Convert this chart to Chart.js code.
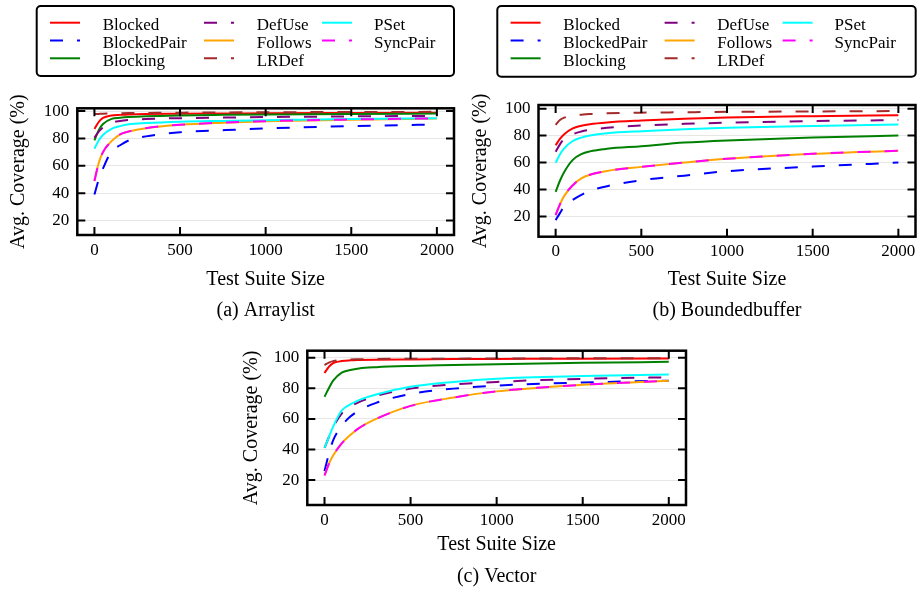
<!DOCTYPE html>
<html>
<head>
<meta charset="utf-8">
<title>Avg. Coverage vs Test Suite Size</title>
<script src="https://cdn.jsdelivr.net/npm/chart.js@4.4.1/dist/chart.umd.min.js"></script>
<style>
    body { margin: 0; background: #fff; }
    #page { position: relative; width: 919px; height: 591px; overflow: hidden; }
    #page canvas { position: absolute; }
</style>
</head>
<body>
<div id="page">
    <canvas id="arraylistChart" width="460" height="330" style="left:0;top:0"></canvas>
    <canvas id="boundedbufferChart" width="459" height="330" style="left:460px;top:0"></canvas>
    <canvas id="vectorChart" width="470" height="256" style="left:230px;top:335px"></canvas>
</div>
<script>
const testSizes = [0, 25, 50, 100, 150, 200, 300, 500, 750, 1000, 1500, 2000];
const criteria = ['Blocked', 'BlockedPair', 'Blocking', 'DefUse', 'Follows', 'LRDef', 'PSet', 'SyncPair'];
const xTicks = [0, 500, 1000, 1500, 2000];
const yTicks = [20, 40, 60, 80, 100];

// average coverage (%) per criterion, rows in the same order as criteria
const arraylistCoverage = [
    [87, 92, 95, 96.8, 97.2, 97.5, 97.8, 98, 98.2, 98.4, 98.6, 98.8],
    [39, 50, 58, 70.5, 75, 78.5, 81.5, 84.5, 86, 87.3, 89, 90.2],
    [78.5, 86, 90.5, 94.3, 95.1, 95.6, 96.2, 96.8, 97.2, 97.5, 97.9, 98.2],
    [80.5, 85, 88, 91.5, 92.8, 93.5, 94.2, 94.8, 95.2, 95.6, 96.1, 96.5],
    [49, 62, 70, 78, 83, 85, 87.5, 90, 91.5, 92.5, 93.7, 94.5],
    [97.8, 97.9, 98, 98.3, 98.4, 98.5, 98.6, 98.8, 99, 99.1, 99.3, 99.4],
    [72.5, 78.5, 82.5, 87, 89, 90.3, 91.2, 92.2, 92.8, 93.3, 94.2, 94.8],
    [49, 62, 70, 78, 83, 85, 87.5, 90, 91.5, 92.6, 93.8, 94.7]
];
const boundedbufferCoverage = [
    [72.8, 77.5, 81, 85.3, 87.3, 88.5, 89.8, 91.2, 92.5, 93.4, 94.4, 95.1],
    [17.3, 22.5, 27.5, 32.3, 36, 39, 42.5, 46.9, 50.3, 53.6, 57, 60],
    [38.3, 46.5, 53, 62, 66.3, 68.3, 70.2, 72.1, 74.8, 76.4, 78.5, 80],
    [68, 73.5, 77.5, 81, 83, 84.3, 85.8, 87.5, 88.7, 89.6, 90.8, 91.5],
    [21, 29, 35.3, 43.2, 48.3, 51, 53.8, 56.8, 60, 62.8, 66.5, 68.8],
    [88, 91.5, 93.3, 94.8, 95.5, 96, 96.5, 97, 97.3, 97.6, 97.9, 98.2],
    [59.8, 66, 70.5, 76, 78.5, 80, 81.7, 83.3, 84.8, 85.9, 87.2, 88.2],
    [21, 29, 35.3, 43.2, 48.3, 51, 53.8, 56.8, 60, 62.8, 66.5, 68.8]
];
const vectorCoverage = [
    [90, 94, 96.5, 97.8, 98.3, 98.5, 98.7, 98.9, 99.1, 99.2, 99.4, 99.5],
    [26, 37, 46, 55.5, 61.5, 65.5, 70.5, 76.3, 79.8, 81.8, 83.8, 85],
    [74.5, 80, 85, 90.3, 92, 93, 93.8, 94.6, 95.2, 95.8, 96.7, 97.3],
    [41, 48, 54.5, 63.5, 68, 71, 75, 79.8, 82.5, 84.2, 86.2, 87.2],
    [23, 30.5, 36, 44, 49.5, 54, 60, 68.5, 74, 78, 82.3, 85],
    [95.2, 96.8, 97.8, 98.6, 98.9, 99, 99.2, 99.3, 99.4, 99.5, 99.6, 99.7],
    [41, 48, 55, 65.5, 69.5, 72.3, 76, 81, 84.2, 86.3, 88, 89],
    [23, 30.5, 36, 44, 49.5, 54, 60, 68.5, 74, 78, 82.3, 85]
];

const seriesColors = ['#ff0000', '#0000ff', '#008000', '#800080', '#ffa500', '#a52a2a', '#00ffff', '#ff00ff'];
const dashedSeries = ['BlockedPair', 'DefUse', 'LRDef', 'SyncPair'];
const serif = "'Liberation Serif', 'Times New Roman', serif";

Chart.defaults.color = '#000';
Chart.defaults.font.family = serif;

let charts = {};

function buildDatasets(coverage) {
    return criteria.map((name, i) => ({
        label: name,
        data: testSizes.map((x, j) => ({ x: x, y: coverage[i][j] })),
        borderColor: seriesColors[i],
        borderWidth: 2,
        borderDash: dashedSeries.includes(name) ? [13, 14] : [],
        pointRadius: 0,
        cubicInterpolationMode: 'monotone',
        fill: false,
        // later series are painted over the earlier ones
        order: criteria.length - i
    }));
}

// frame with inward ticks, the legend box and the caption under each panel
const figurePlugin = {
    id: 'figure',
    afterDatasetsDraw(chart) {
        const { ctx, chartArea: a, scales } = chart;
        ctx.save();
        ctx.strokeStyle = '#000';
        ctx.lineWidth = 2;
        ctx.beginPath();
        scales.x.ticks.forEach(t => {
            const px = scales.x.getPixelForValue(t.value);
            ctx.moveTo(px, a.bottom); ctx.lineTo(px, a.bottom - 8);
            ctx.moveTo(px, a.top); ctx.lineTo(px, a.top + 8);
        });
        scales.y.ticks.forEach(t => {
            const py = scales.y.getPixelForValue(t.value);
            ctx.moveTo(a.left, py); ctx.lineTo(a.left + 8, py);
            ctx.moveTo(a.right, py); ctx.lineTo(a.right - 8, py);
        });
        ctx.stroke();
        ctx.lineWidth = 2.5;
        ctx.strokeRect(a.left, a.top, a.right - a.left, a.bottom - a.top);
        ctx.restore();
    },
    afterDraw(chart, args, opts) {
        const { ctx, chartArea: a } = chart;
        ctx.save();
        ctx.fillStyle = '#000';
        ctx.font = '20px ' + serif;
        ctx.textAlign = 'center';
        ctx.textBaseline = 'middle';
        ctx.fillText(opts.caption, (a.left + a.right) / 2, opts.captionY);

        const box = opts.legend;
        if (box) {
            ctx.fillStyle = '#fff';
            ctx.strokeStyle = '#000';
            ctx.lineWidth = 2;
            ctx.beginPath();
            ctx.roundRect(box.left, box.top, box.width, box.height, 4);
            ctx.fill();
            ctx.stroke();
            const lineX = [13.3, 167.3, 285.3];
            const textX = [66, 220, 337.3];
            ctx.font = '17px ' + serif;
            ctx.textAlign = 'left';
            ctx.textBaseline = 'alphabetic';
            chart.data.datasets.forEach((ds, i) => {
                const col = Math.floor(i / 3);
                const row = i % 3;
                const y = box.top + 16.7 + row * 17.8;
                ctx.strokeStyle = ds.borderColor;
                ctx.setLineDash(ds.borderDash);
                ctx.beginPath();
                ctx.moveTo(box.left + lineX[col], y);
                ctx.lineTo(box.left + lineX[col] + 30, y);
                ctx.stroke();
                ctx.setLineDash([]);
                ctx.fillStyle = '#000';
                ctx.fillText(ds.label, box.left + textX[col], y + 7.3);
            });
        }
        ctx.restore();
    }
};

function createChart(canvasId, coverage, layout) {
    const canvas = document.getElementById(canvasId);
    if (!canvas) return;

    if (charts[canvasId]) {
        charts[canvasId].destroy();
    }

    charts[canvasId] = new Chart(canvas.getContext('2d'), {
        type: 'line',
        data: { datasets: buildDatasets(coverage) },
        options: {
            responsive: false,
            maintainAspectRatio: false,
            animation: false,
            layout: { padding: layout.padding },
            plugins: {
                legend: { display: false },
                tooltip: { enabled: false },
                figure: {
                    caption: layout.caption,
                    captionY: layout.captionY,
                    legend: layout.legend
                }
            },
            scales: {
                x: {
                    type: 'linear',
                    min: -100,
                    max: 2100,
                    afterBuildTicks: axis => { axis.ticks = xTicks.map(v => ({ value: v })); },
                    // fixed axis size, and no extra room for the end labels
                    afterFit: axis => {
                        axis.height = layout.xHeight;
                        axis.paddingLeft = 0;
                        axis.paddingRight = 0;
                    },
                    grid: { display: false, drawTicks: false },
                    border: { display: false },
                    ticks: { font: { size: 17 }, padding: 5, maxRotation: 0, callback: v => String(v) },
                    title: {
                        display: true,
                        text: 'Test Suite Size',
                        font: { size: 20 },
                        padding: 0
                    }
                },
                y: {
                    min: layout.yMin,
                    max: layout.yMax,
                    afterBuildTicks: axis => { axis.ticks = yTicks.map(v => ({ value: v })); },
                    afterFit: axis => {
                        axis.width = layout.yWidth;
                        axis.paddingTop = 0;
                        axis.paddingBottom = 0;
                    },
                    grid: { color: '#e6e6e6', lineWidth: 1, drawTicks: false },
                    border: { display: false },
                    ticks: { font: { size: 17 }, padding: 8, callback: v => String(v) },
                    title: {
                        display: true,
                        text: 'Avg. Coverage (%)',
                        font: { size: 20 },
                        padding: { top: layout.yTitlePad, bottom: 0 }
                    }
                }
            }
        },
        plugins: [figurePlugin]
    });
}

createChart('arraylistChart', arraylistCoverage, {
    padding: { top: 108.3, right: 6, bottom: 38, left: 0 },
    xHeight: 57, yWidth: 77.3, yMin: 9.5, yMax: 102, yTitlePad: 7,
    caption: '(a) Arraylist', captionY: 310.5,
    legend: { left: 36.7, top: 6, width: 417.3, height: 70 }
});

createChart('boundedbufferChart', boundedbufferCoverage, {
    padding: { top: 105, right: 3.5, bottom: 38, left: 0 },
    xHeight: 55.3, yWidth: 78.5, yMin: 5, yMax: 102.7, yTitlePad: 8.5,
    caption: '(b) Boundedbuffer', captionY: 310.5,
    legend: { left: 37.3, top: 6, width: 418.4, height: 70.7 }
});

createChart('vectorChart', vectorCoverage, {
    padding: { top: 15.7, right: 14, bottom: 34, left: 0 },
    xHeight: 52, yWidth: 77.3, yMin: 3.7, yMax: 104.6, yTitlePad: 10,
    caption: '(c) Vector', captionY: 241.5,
    legend: null
});
</script>
</body>
</html>
